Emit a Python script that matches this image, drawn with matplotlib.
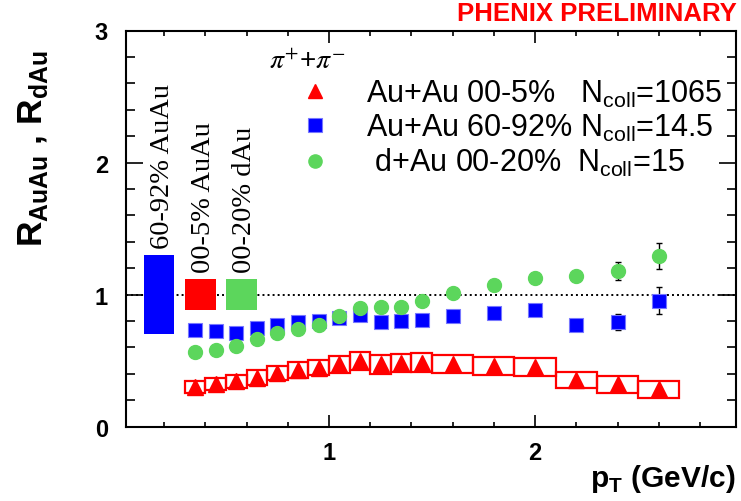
import numpy as np
import matplotlib
matplotlib.use("Agg")
import matplotlib.pyplot as plt
from matplotlib.patches import Rectangle
from matplotlib.ticker import MultipleLocator

plt.rcParams["font.family"] = ["Liberation Sans", "DejaVu Sans"]
plt.rcParams["mathtext.fontset"] = "custom"
plt.rcParams["mathtext.rm"] = "Liberation Sans"
plt.rcParams["mathtext.bf"] = "Liberation Sans:bold"

# ---- data ----
pt = np.array([0.35, 0.45, 0.55, 0.65, 0.75, 0.85, 0.95, 1.05, 1.15, 1.25,
               1.35, 1.45, 1.6, 1.8, 2.0, 2.2, 2.4, 2.6])

r_central = np.array([0.300, 0.323, 0.343, 0.370, 0.404, 0.427, 0.448, 0.471, 0.498,
                      0.471, 0.483, 0.486, 0.475, 0.461, 0.451, 0.354, 0.321, 0.282])
sys_central = np.array([0.045, 0.048, 0.051, 0.057, 0.053, 0.061, 0.059, 0.064, 0.068,
                        0.072, 0.070, 0.072, 0.070, 0.067, 0.070, 0.063, 0.066, 0.063])

r_periph = np.array([0.735, 0.725, 0.712, 0.745, 0.770, 0.795, 0.801, 0.826, 0.846,
                     0.793, 0.803, 0.811, 0.836, 0.861, 0.886, 0.768, 0.793, 0.955])
err_periph = np.array([0, 0, 0, 0, 0, 0, 0, 0, 0, 0, 0, 0, 0, 0, 0, 0, 0.06, 0.10])

r_dau = np.array([0.568, 0.583, 0.614, 0.664, 0.708, 0.742, 0.773, 0.839, 0.899,
                  0.905, 0.907, 0.955, 1.011, 1.073, 1.127, 1.144, 1.180, 1.291])
err_dau = np.array([0, 0, 0, 0, 0, 0, 0, 0, 0, 0, 0, 0, 0, 0, 0, 0.03, 0.066, 0.10])

# normalisation uncertainty boxes around 1
norm_labels = ["60-92% AuAu", "00-5% AuAu", "00-20% dAu"]
norm_x = [0.175, 0.375, 0.575]
norm_err = [0.30, 0.12, 0.12]

leg_labels = ["Au+Au 00-5%   N$_{\\mathrm{coll}}$=1065",
              "Au+Au 60-92% N$_{\\mathrm{coll}}$=14.5",
              " d+Au 00-20%  N$_{\\mathrm{coll}}$=15"]

RED, BLUE, GREEN = "#ff0000", "#0000ff", "#5cd65c"
norm_colors = [BLUE, RED, GREEN]

# ---- figure ----
W, H = 741, 502
fig = plt.figure(figsize=(W / 100, H / 100), dpi=100)
ax = fig.add_axes([126 / W, (H - 427.7) / H, (736 - 126) / W, (427.7 - 31.5) / H])

ax.axhline(1.0, color="black", lw=1.4, ls=(0, (1, 1.6)), zorder=1)

for xc, e, c, lab in zip(norm_x, norm_err, norm_colors, norm_labels):
    ax.add_patch(Rectangle((xc - 0.075, 1 - e), 0.15, 2 * e, color=c, lw=0, zorder=2))
    ax.text(xc + 0.015, 1 + e + 0.05, lab, rotation=90, ha="center", va="bottom",
            fontsize=20.5, family="Liberation Serif")

# systematic boxes for central Au+Au
half_w = np.where(pt < 1.5, 0.05, 0.1)
for x, y, s, hw in zip(pt, r_central, sys_central, half_w):
    ax.add_patch(Rectangle((x - hw, y - s), 2 * hw, 2 * s, fill=False,
                           ec=RED, lw=1.6, zorder=3))

h_c, = ax.plot(pt, r_central, "^", color=RED, ms=11, mec=RED, zorder=4)
ax.errorbar(pt, r_periph, yerr=err_periph, fmt="none", ecolor="black",
            elinewidth=1, capsize=2.5, zorder=4)
h_p, = ax.plot(pt, r_periph, "s", color=BLUE, ms=10, mec="#7777ff", mew=0.8, zorder=5)
ax.errorbar(pt, r_dau, yerr=err_dau, fmt="none", ecolor="black",
            elinewidth=1, capsize=2.5, zorder=4)
h_d, = ax.plot(pt, r_dau, "o", color=GREEN, ms=10, mec=GREEN, zorder=6)

ax.set_xlim(0.015, 2.975)
ax.set_ylim(0, 3)
ax.xaxis.set_major_locator(MultipleLocator(1))
ax.xaxis.set_minor_locator(MultipleLocator(0.2))
ax.yaxis.set_major_locator(MultipleLocator(1))
ax.yaxis.set_minor_locator(MultipleLocator(0.2))
ax.tick_params(which="both", direction="in", top=True, right=True, width=1.2)
ax.tick_params(axis="x", which="major", length=8.6, pad=10, labelsize=17)
ax.tick_params(axis="x", which="minor", length=3.6)
ax.tick_params(axis="y", which="major", length=12, pad=13, labelsize=17)
ax.tick_params(axis="y", which="minor", length=6.5)
for lbl in ax.get_xticklabels() + ax.get_yticklabels():
    lbl.set_fontweight("bold")
for sp in ax.spines.values():
    sp.set_linewidth(1.5)

ax.legend([h_c, h_p, h_d], leg_labels, loc="upper left", frameon=False,
          bbox_to_anchor=(300 / W, 1 - 79 / H), bbox_transform=fig.transFigure,
          fontsize=22, handlelength=1.0, handletextpad=1.17, labelspacing=0.1,
          borderpad=0, borderaxespad=0, markerscale=0.95)

fig.text(307 / W, 1 - 62 / H, r"$\pi^{+}$+$\pi^{-}$", ha="center", va="center",
         fontsize=20, math_fontfamily="stix")

fig.text(737 / W, 1 - 14 / H, "PHENIX PRELIMINARY", ha="right", va="center",
         fontsize=18.5, fontweight="bold", color=RED)

fig.text(33 / W, 1 - 149 / H, r"R$_{\mathbf{AuAu}}$ , R$_{\mathbf{dAu}}$",
         rotation=90, ha="center", va="center", fontsize=25.5, fontweight="bold")
fig.text(735 / W, 1 - 479 / H, r"p$_{\mathbf{T}}$ (GeV/c)", ha="right",
         va="center", fontsize=21.5, fontweight="bold")

fig.savefig("out.png", dpi=100)
